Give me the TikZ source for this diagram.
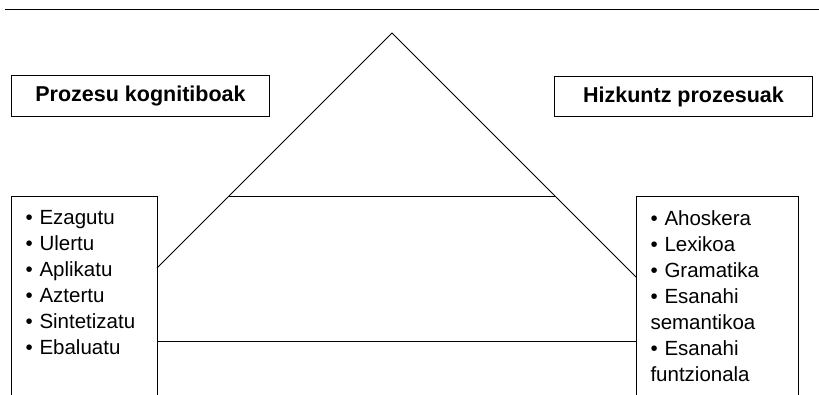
\documentclass[tikz,border=0pt]{standalone}
\usepackage{fontspec}
\setmainfont{Liberation Sans}

\tikzset{
    titlebox/.style={draw, line width=1pt, inner sep=0pt, font=\fontsize{21.5}{25}\selectfont\bfseries},
    listbox/.style={draw, line width=1pt, anchor=north west, align=left, inner xsep=14pt, inner ysep=14pt,
        text depth=200pt, font=\fontsize{20.5}{26}\selectfont},
    edge/.style={line width=1pt}
}

\begin{document}
\begin{tikzpicture}[x=1pt, y=-1pt]
    \clip (0,0) rectangle (819,394);
    \draw[edge] (5,9) -- (819,9);
    % titles
    \node[titlebox, minimum width=258pt, minimum height=41pt, anchor=north west] (kogtitle) at (11,75) {Prozesu kognitiboak};
    \node[titlebox, minimum width=258pt, minimum height=40pt, anchor=north west] (hiztitle) at (554,76) {Hizkuntz prozesuak};
    % lists
    \node[listbox, text width=118pt] (koglist) at (11,196)
        {\textbullet{} Ezagutu\\ \textbullet{} Ulertu\\ \textbullet{} Aplikatu\\ \textbullet{} Aztertu\\ \textbullet{} Sintetizatu\\ \textbullet{} Ebaluatu};
    \node[listbox, text width=134pt] (hizlist) at (636,196)
        {\textbullet{} Ahoskera\\ \textbullet{} Lexikoa\\ \textbullet{} Gramatika\\ \textbullet{} Esanahi\\ semantikoa\\ \textbullet{} Esanahi\\ funtzionala};
    % pyramid
    \coordinate (apex) at (392,33);
    \coordinate (kogend) at (157,268);
    \coordinate (hizend) at (636,277);
    \coordinate (kogbase) at (157,341);
    \coordinate (hizbase) at (636,341);
    \draw[edge] (kogend) -- (apex) -- (hizend);
    \draw[edge] (intersection of apex--kogend and koglist.north--hizlist.north)
        -- (intersection of apex--hizend and koglist.north--hizlist.north);
    \draw[edge] (kogbase) -- (hizbase);
\end{tikzpicture}
\end{document}
